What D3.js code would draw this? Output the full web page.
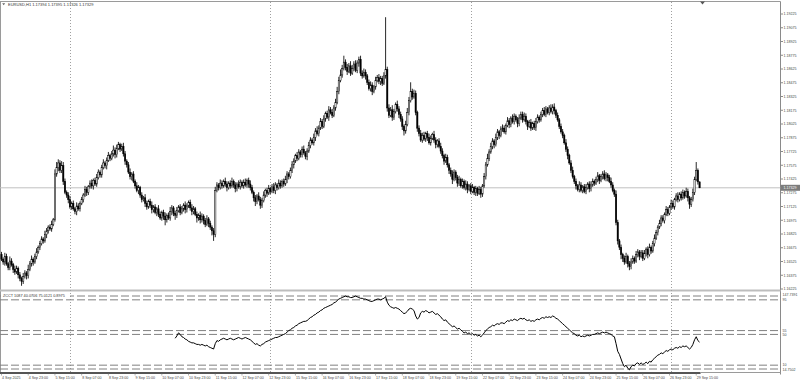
<!DOCTYPE html>
<html>
<head>
<meta charset="utf-8">
<script src="https://cdn.jsdelivr.net/npm/d3@7"></script>
<style>
  html, body { margin: 0; padding: 0; background: #fff; }
  svg { display: block; font-family: "Liberation Sans", "DejaVu Sans", sans-serif; }
</style>
</head>
<body>
<svg id="chart" width="800" height="383"></svg>
<script>
// EURUSD H1, 4 Sep 07:00 .. 29 Sep 2025
const symbol = "EURUSD,H1";
const firstOpen = 1.1660;

// hourly closes
const closes = [
  1.1655, 1.1652, 1.1658, 1.1650, 1.1646, 1.1653, 1.1649, 1.1644, 1.1641, 1.1645, 1.1638, 1.1634,
  1.1631, 1.1636, 1.1640, 1.1637, 1.1644, 1.1650, 1.1655, 1.1652, 1.1658, 1.1663, 1.1668, 1.1672,
  1.1677, 1.1675, 1.1682, 1.1686, 1.1690, 1.1688, 1.1693, 1.1698, 1.1748, 1.1755, 1.1760, 1.1752,
  1.1757, 1.1740, 1.1728, 1.1725, 1.1720, 1.1712, 1.1716, 1.1710, 1.1707, 1.1713, 1.1710, 1.1716,
  1.1720, 1.1725, 1.1731, 1.1728, 1.1734, 1.1738, 1.1735, 1.1741, 1.1737, 1.1744, 1.1750, 1.1747,
  1.1755, 1.1760, 1.1757, 1.1763, 1.1768, 1.1765, 1.1770, 1.1774, 1.1769, 1.1776, 1.1780, 1.1775,
  1.1778, 1.1770, 1.1762, 1.1758, 1.1750, 1.1745, 1.1748, 1.1740, 1.1735, 1.1730, 1.1733, 1.1725,
  1.1720, 1.1722, 1.1716, 1.1712, 1.1718, 1.1714, 1.1709, 1.1712, 1.1706, 1.1710, 1.1704, 1.1700,
  1.1706, 1.1702, 1.1698, 1.1703, 1.1700, 1.1707, 1.1711, 1.1705, 1.1703, 1.1708, 1.1712, 1.1706,
  1.1710, 1.1714, 1.1709, 1.1713, 1.1717, 1.1711, 1.1707, 1.1710, 1.1704, 1.1700, 1.1703, 1.1698,
  1.1702, 1.1697, 1.1693, 1.1699, 1.1694, 1.1690, 1.1686, 1.1682, 1.1730, 1.1736, 1.1733, 1.1738,
  1.1735, 1.1740, 1.1737, 1.1733, 1.1738, 1.1735, 1.1740, 1.1736, 1.1732, 1.1737, 1.1734, 1.1739,
  1.1735, 1.1739, 1.1736, 1.1741, 1.1737, 1.1733, 1.1728, 1.1722, 1.1718, 1.1724, 1.1720, 1.1714,
  1.1719, 1.1725, 1.1730, 1.1727, 1.1732, 1.1729, 1.1734, 1.1730, 1.1736, 1.1733, 1.1738, 1.1735,
  1.1740, 1.1737, 1.1742, 1.1748, 1.1745, 1.1752, 1.1758, 1.1762, 1.1768, 1.1765, 1.1772, 1.1769,
  1.1775, 1.1771, 1.1767, 1.1773, 1.1779, 1.1785, 1.1782, 1.1788, 1.1795, 1.1792, 1.1798, 1.1805,
  1.1800, 1.1808, 1.1814, 1.1810, 1.1818, 1.1815, 1.1812, 1.1820, 1.1826, 1.1838, 1.1850, 1.1856,
  1.1863, 1.1870, 1.1864, 1.1860, 1.1866, 1.1858, 1.1863, 1.1868, 1.1861, 1.1869, 1.1873, 1.1858,
  1.1855, 1.1859, 1.1855, 1.1848, 1.1841, 1.1845, 1.1838, 1.1843, 1.1850, 1.1853, 1.1849, 1.1852,
  1.1847, 1.1855, 1.1862, 1.1820, 1.1812, 1.1818, 1.1810, 1.1816, 1.1824, 1.1819, 1.1813, 1.1808,
  1.1800, 1.1795, 1.1802, 1.1815, 1.1828, 1.1838, 1.1832, 1.1836, 1.1815, 1.1798, 1.1792, 1.1785,
  1.1790, 1.1786, 1.1792, 1.1788, 1.1782, 1.1787, 1.1791, 1.1785, 1.1780, 1.1784, 1.1778, 1.1773,
  1.1768, 1.1762, 1.1766, 1.1758, 1.1752, 1.1748, 1.1742, 1.1750, 1.1744, 1.1738, 1.1742, 1.1735,
  1.1740, 1.1733, 1.1737, 1.1731, 1.1735, 1.1729, 1.1733, 1.1728, 1.1732, 1.1727, 1.1731, 1.1726,
  1.1735, 1.1745, 1.1758, 1.1765, 1.1772, 1.1778, 1.1784, 1.1780, 1.1788, 1.1794, 1.1790, 1.1797,
  1.1798, 1.1794, 1.1801, 1.1806, 1.1802, 1.1809, 1.1805, 1.1811, 1.1807, 1.1803, 1.1809, 1.1813,
  1.1807, 1.1811, 1.1805, 1.1800, 1.1804, 1.1798, 1.1803, 1.1799, 1.1805, 1.1810, 1.1807, 1.1813,
  1.1817, 1.1813, 1.1819, 1.1815, 1.1820, 1.1816, 1.1821, 1.1817, 1.1812, 1.1807, 1.1800, 1.1794,
  1.1790, 1.1782, 1.1775, 1.1768, 1.1760, 1.1752, 1.1745, 1.1740, 1.1735, 1.1731, 1.1736, 1.1730,
  1.1734, 1.1729, 1.1733, 1.1737, 1.1732, 1.1736, 1.1740, 1.1738, 1.1742, 1.1746, 1.1741, 1.1745,
  1.1748, 1.1743, 1.1747, 1.1744, 1.1740, 1.1736, 1.1730, 1.1726, 1.1695, 1.1675, 1.1668, 1.1660,
  1.1656, 1.1652, 1.1658, 1.1650, 1.1647, 1.1652, 1.1656, 1.1653, 1.1660, 1.1663, 1.1658, 1.1662,
  1.1656, 1.1661, 1.1666, 1.1660, 1.1668, 1.1664, 1.1672, 1.1678, 1.1684, 1.1690, 1.1694, 1.1700,
  1.1697, 1.1704, 1.1709, 1.1705, 1.1712, 1.1716, 1.1712, 1.1720, 1.1724, 1.1720, 1.1726, 1.1722,
  1.1728, 1.1724, 1.1729, 1.1722, 1.1715, 1.1720, 1.1728, 1.1742, 1.1752, 1.17394, 1.17329
];

// wick lengths above / below the body, in pips
const upperWicks = [
  3,2,4,3,2,5,3,2,4,3,2,3, 2,4,3,2,5,3,4,2,3,4,2,3, 3,2,4,3,2,3,4,2,5,6,4,3,
  5,4,3,2,3,4,2,3,2,4,3,2, 3,2,4,3,2,3,4,2,3,4,3,2, 3,4,2,3,4,2,3,5,3,4,3,2,
  3,4,3,2,3,4,2,3,2,4,3,2, 3,2,4,3,2,3,4,2,3,2,4,3, 2,3,4,2,3,5,3,2,3,4,2,3,
  3,2,4,3,2,3,4,3,2,3,2,4, 3,2,3,4,2,3,2,3,4,3,2,4, 3,2,4,3,2,3,4,2,3,2,4,3,
  2,3,4,2,3,4,3,2,3,2,4,3, 3,4,2,3,4,2,3,4,3,2,4,3, 2,3,4,3,2,3,4,3,2,4,3,2,
  3,4,2,3,4,3,2,4,3,5,3,4, 3,4,2,3,4,3,4,3,4,5,4,6, 4,7,3,4,3,5,4,3,4,3,3,4,
  3,4,3,2,3,4,3,2,4,3,4,3, 3,4,57,3,4,3,5,3,2,4,3,3, 3,2,4,5,4,10,3,4,3,2,3,4,
  3,4,2,3,4,3,2,4,3,2,3,4, 3,2,4,3,2,3,4,3,2,3,4,2, 3,2,4,3,2,3,4,2,3,2,4,3,
  2,4,3,5,3,4,3,2,4,3,2,3, 4,3,2,4,3,2,4,3,2,3,4,3, 3,4,3,2,3,4,2,3,4,3,2,3,
  3,4,3,2,3,4,3,4,2,3,2,3, 3,2,4,3,2,3,4,2,3,2,4,3, 2,3,4,2,3,4,3,2,3,4,2,3,
  3,4,3,2,3,4,3,2,4,3,2,3, 2,3,4,2,3,4,3,2,4,3,2,3, 3,4,2,3,4,2,3,4,3,2,4,3,
  3,2,4,3,2,4,3,2,3,4,2,3, 3,2,4,3,2,3,4,3,9,2,0.14
];
const lowerWicks = [
  2,3,4,2,3,3,2,4,3,2,4,3, 5,3,2,4,3,2,3,4,2,3,2,3, 2,3,2,4,3,2,3,2,2,3,4,3,
  3,4,2,3,4,2,3,2,3,4,2,3, 2,3,2,4,3,2,3,4,2,3,2,3, 3,2,3,4,2,3,2,3,4,3,2,3,
  2,3,4,3,2,3,4,2,3,2,4,3, 3,2,4,3,2,3,4,3,2,4,3,2, 3,4,6,3,2,3,4,3,5,3,2,3,
  2,3,4,3,2,3,4,3,2,5,3,4, 3,4,3,2,4,3,5,7,3,2,3,2, 3,2,3,4,2,3,2,3,4,3,2,3,
  2,3,2,3,4,3,2,4,5,3,2,4, 3,2,3,4,2,3,2,3,4,3,2,3, 2,3,2,4,3,2,3,4,2,3,2,3,
  3,2,3,4,2,3,2,3,4,2,3,2, 3,2,3,2,4,2,3,2,3,2,3,2, 3,2,3,4,2,3,2,3,2,3,4,3,
  3,2,4,3,2,3,4,2,3,2,3,4, 3,2,3,4,3,2,4,3,2,3,4,3, 4,5,3,2,3,2,3,2,3,4,3,2,
  3,2,3,4,2,3,2,3,4,3,2,3, 3,4,2,3,4,3,5,2,3,4,3,2, 3,2,3,4,2,3,2,3,4,3,2,4,
  3,2,3,2,3,2,3,4,2,3,4,2, 3,2,3,2,4,3,2,3,2,4,3,2, 3,2,3,4,2,3,2,3,4,2,3,2,
  3,2,3,2,3,2,3,4,3,2,3,2, 3,2,3,4,2,3,2,3,4,2,3,2, 3,2,3,2,4,3,2,3,2,3,4,2,
  3,2,3,4,2,3,2,3,3,4,3,5, 4,3,2,4,4,3,2,3,2,3,4,2, 3,2,3,4,2,3,2,3,2,3,2,3,
  2,3,2,3,2,3,2,3,2,3,2,3, 2,3,2,4,5,3,2,3,2,3,0.29
];

// oscillator in the lower window, starts at bar 104
const indicatorStart = 104;
const indicator = [
  45,48,52,50,47,46,44,43,41,40,39,39,38,37,37,36,
  37,36,35,36,34,33,32,31,38,42,41,43,
  44,45,44,43,44,45,44,43,44,45,46,45,44,45,46,45,44,43,
  41,39,37,38,36,35,37,38,40,41,42,43,
  44,45,46,46,47,48,49,50,51,53,55,56,
  58,59,61,62,64,65,66,67,67,68,70,72,
  73,75,76,78,79,81,82,84,85,86,87,88,
  89,91,92,94,96,97,98,99,100,99,99,98,
  98,99,100,99,98,97,97,96,96,95,94,93,
  93,94,95,96,96,95,96,97,
  99,92,
  88,86,85,84,85,84,83,81,79,77,
  78,80,83,84,83,81,74,70,72,
  78,80,79,81,80,78,79,80,78,76,77,75,73,
  70,68,69,66,64,62,60,61,59,57,58,56,
  54,52,53,51,52,50,51,49,50,48,49,47,
  49,52,55,57,59,60,62,61,63,64,63,65,
  65,64,66,68,67,69,68,70,69,68,70,71,
  70,71,69,68,69,67,68,67,69,70,69,71,
  72,71,73,72,73,72,74,73,71,70,68,66,
  64,62,60,58,56,54,52,51,49,48,49,47,
  48,47,48,49,48,49,50,50,51,52,51,52,
  53,52,53,52,51,50,48,47,
  38,28,24,18,12,8,10,6,4,
  8,10,9,12,13,11,13,11,12,14,12,15,
  14,17,19,21,23,24,26,25,27,29,28,30,
  31,30,32,33,32,34,33,35,34,35,33,31,
  33,37,43,47,42,40
];

const priceTicks = [
  1.16225, 1.16375, 1.16525, 1.16675, 1.16825, 1.16975, 1.17125, 1.17275, 1.17425, 1.17575, 1.17725,
  1.17875, 1.18025, 1.18175, 1.18325, 1.18475, 1.18625, 1.18775, 1.18925, 1.19075, 1.19225
];
const timeLabels = [
  "4 Sep 2025", "4 Sep 23:00", "5 Sep 15:00", "8 Sep 07:00", "8 Sep 23:00", "9 Sep 15:00",
  "10 Sep 07:00", "10 Sep 23:00", "11 Sep 15:00", "12 Sep 07:00", "12 Sep 23:00", "15 Sep 15:00",
  "16 Sep 07:00", "16 Sep 23:00", "17 Sep 15:00", "18 Sep 07:00", "18 Sep 23:00", "19 Sep 15:00",
  "22 Sep 07:00", "22 Sep 23:00", "23 Sep 15:00", "24 Sep 07:00", "24 Sep 23:00", "25 Sep 15:00",
  "26 Sep 07:00", "26 Sep 23:00", "29 Sep 15:00"
];
const labelEvery = 16;            // bars between time labels
const weekStarts = [41, 161, 281, 401];  // Monday 00:00 bars
const levels = [100, 95, 55, 50, 10, 5];
const levelLabels = [95, 55, 50, 10];
const subRangeLabels = ["147.7391", "14.7502"];
const subLegend = "ZCCT 1087 40.0706 75.0121 0.8975";

const right = 780.5;
const mainTop = 2, mainBottom = 289.5;
const subTop = 292, subBottom = 372.5;

const bars = closes.map((c, i) => {
  const o = i ? closes[i - 1] : firstOpen;
  return {
    i: i, o: o, c: c,
    h: Math.max(o, c) + upperWicks[i] * 1e-4,
    l: Math.min(o, c) - lowerWicks[i] * 1e-4
  };
});
const last = bars[bars.length - 1];

const x = d3.scaleLinear().domain([0, 419]).range([1.5, 1.5 + 419 * 1.67]);
const y = d3.scaleLinear().domain([1.16225, 1.19225]).range([289, 14]);
const ys = d3.scaleLinear().domain([5, 100]).range([369, 296]);

const svg = d3.select("#chart");
const fmt = d3.format(".5f");

svg.append("defs").append("clipPath").attr("id", "mainClip")
  .append("rect").attr("x", 0).attr("y", mainTop).attr("width", right).attr("height", mainBottom - mainTop);

// frame
svg.append("line").attr("x1", 0).attr("x2", right).attr("y1", 1.5).attr("y2", 1.5)
  .attr("stroke", "#9a9a9a");
svg.append("line").attr("x1", 0.5).attr("x2", 0.5).attr("y1", 1.5).attr("y2", subBottom)
  .attr("stroke", "#9a9a9a");
svg.append("line").attr("x1", right).attr("x2", right).attr("y1", 1.5).attr("y2", subBottom + 2)
  .attr("stroke", "#8a8a8a");
svg.append("rect").attr("x", 0).attr("y", mainBottom).attr("width", right).attr("height", 2)
  .attr("fill", "#bdbdbd");

// weekly separators
svg.append("g").selectAll("line").data(weekStarts).enter().append("line")
  .attr("x1", d => Math.round(x(d)) + 0.5).attr("x2", d => Math.round(x(d)) + 0.5)
  .attr("y1", mainTop).attr("y2", subBottom)
  .attr("stroke", "#a0a0a0").attr("stroke-dasharray", "1,2");

// last price line
svg.append("line").attr("x1", 0).attr("x2", right)
  .attr("y1", y(last.c)).attr("y2", y(last.c))
  .attr("stroke", "#c0c0c0");

// candles
const cg = svg.append("g").attr("clip-path", "url(#mainClip)");
cg.selectAll("line.wick").data(bars).enter().append("line")
  .attr("class", "wick")
  .attr("x1", d => x(d.i)).attr("x2", d => x(d.i))
  .attr("y1", d => y(d.h)).attr("y2", d => y(d.l))
  .attr("stroke", "#111").attr("stroke-width", 0.9);
cg.selectAll("rect.body").data(bars).enter().append("rect")
  .attr("class", "body")
  .attr("x", d => x(d.i) - 0.65)
  .attr("width", 1.3)
  .attr("y", d => y(Math.max(d.o, d.c)))
  .attr("height", d => Math.max(0.6, Math.abs(y(d.o) - y(d.c))))
  .attr("fill", d => d.c >= d.o ? "#fff" : "#000")
  .attr("stroke", "#000").attr("stroke-width", 0.5);

// price axis
const pa = svg.append("g");
pa.selectAll("line").data(priceTicks).enter().append("line")
  .attr("x1", right).attr("x2", right + 2.5)
  .attr("y1", d => y(d)).attr("y2", d => y(d))
  .attr("stroke", "#8a8a8a");
pa.selectAll("text").data(priceTicks).enter().append("text")
  .attr("x", 783.5).attr("y", d => y(d) + 1.3)
  .attr("font-size", 3.6).attr("fill", "#444")
  .text(d => fmt(d));

// current price tag
svg.append("rect").attr("x", right).attr("y", y(last.c) - 3).attr("width", 19.5).attr("height", 6)
  .attr("fill", "#7c7c7c");
svg.append("text").attr("x", 783.5).attr("y", y(last.c) + 1.3)
  .attr("font-size", 3.6).attr("fill", "#fff").text(fmt(last.c));

// title
svg.append("path").attr("d", "M2.2,3.3 L5.2,3.3 L3.7,5.3 Z").attr("fill", "#666");
svg.append("text").attr("x", 8).attr("y", 5.8).attr("font-size", 4).attr("fill", "#333")
  .text(symbol + " " + [last.o, last.h, last.l, last.c].map(fmt).join(" "));

// chart shift marker
svg.append("path").attr("d", "M700,1.5 L705,1.5 L702.5,4.5 Z").attr("fill", "#555");

// ---- indicator window ----
svg.append("g").selectAll("line").data(levels).enter().append("line")
  .attr("x1", 0).attr("x2", right - 1)
  .attr("y1", d => ys(d)).attr("y2", d => ys(d))
  .attr("stroke", "#808080").attr("stroke-dasharray", "8,3");

const line = d3.line()
  .x((d, k) => x(indicatorStart + k))
  .y(d => ys(d));
svg.append("path").datum(indicator)
  .attr("d", line).attr("fill", "none").attr("stroke", "#000").attr("stroke-width", 1);

// legend with white backing
svg.append("rect").attr("x", 1).attr("y", 293).attr("width", 69).attr("height", 4.6).attr("fill", "#fff");
svg.append("text").attr("x", 3).attr("y", 296.8).attr("font-size", 3.8).attr("fill", "#333")
  .text(subLegend);

const la = svg.append("g");
la.selectAll("text").data(levelLabels).enter().append("text")
  .attr("x", 782.5).attr("y", d => ys(d) + 1.3)
  .attr("font-size", 3.6).attr("fill", "#444").text(d => d);
la.append("text").attr("x", 782.5).attr("y", subTop + 3.6)
  .attr("font-size", 3.6).attr("fill", "#444").text(subRangeLabels[0]);
la.append("text").attr("x", 782.5).attr("y", subBottom - 1.2)
  .attr("font-size", 3.6).attr("fill", "#444").text(subRangeLabels[1]);

// bottom border / time axis
svg.append("line").attr("x1", 0).attr("x2", x(closes.length - 1) + 1)
  .attr("y1", subBottom + 0.5).attr("y2", subBottom + 0.5)
  .attr("stroke", "#555").attr("stroke-width", 2);
svg.append("line").attr("x1", x(closes.length - 1) + 1).attr("x2", right)
  .attr("y1", subBottom).attr("y2", subBottom)
  .attr("stroke", "#9a9a9a");

const ta = svg.append("g");
ta.selectAll("line").data(timeLabels).enter().append("line")
  .attr("x1", (d, k) => x(k * labelEvery)).attr("x2", (d, k) => x(k * labelEvery))
  .attr("y1", subBottom + 1).attr("y2", subBottom + 3)
  .attr("stroke", "#777").attr("stroke-width", 0.6);
ta.selectAll("text").data(timeLabels).enter().append("text")
  .attr("x", (d, k) => x(k * labelEvery) + 0.5).attr("y", 378.6)
  .attr("font-size", 3.6).attr("fill", "#444")
  .text(d => d);
</script>
</body>
</html>
